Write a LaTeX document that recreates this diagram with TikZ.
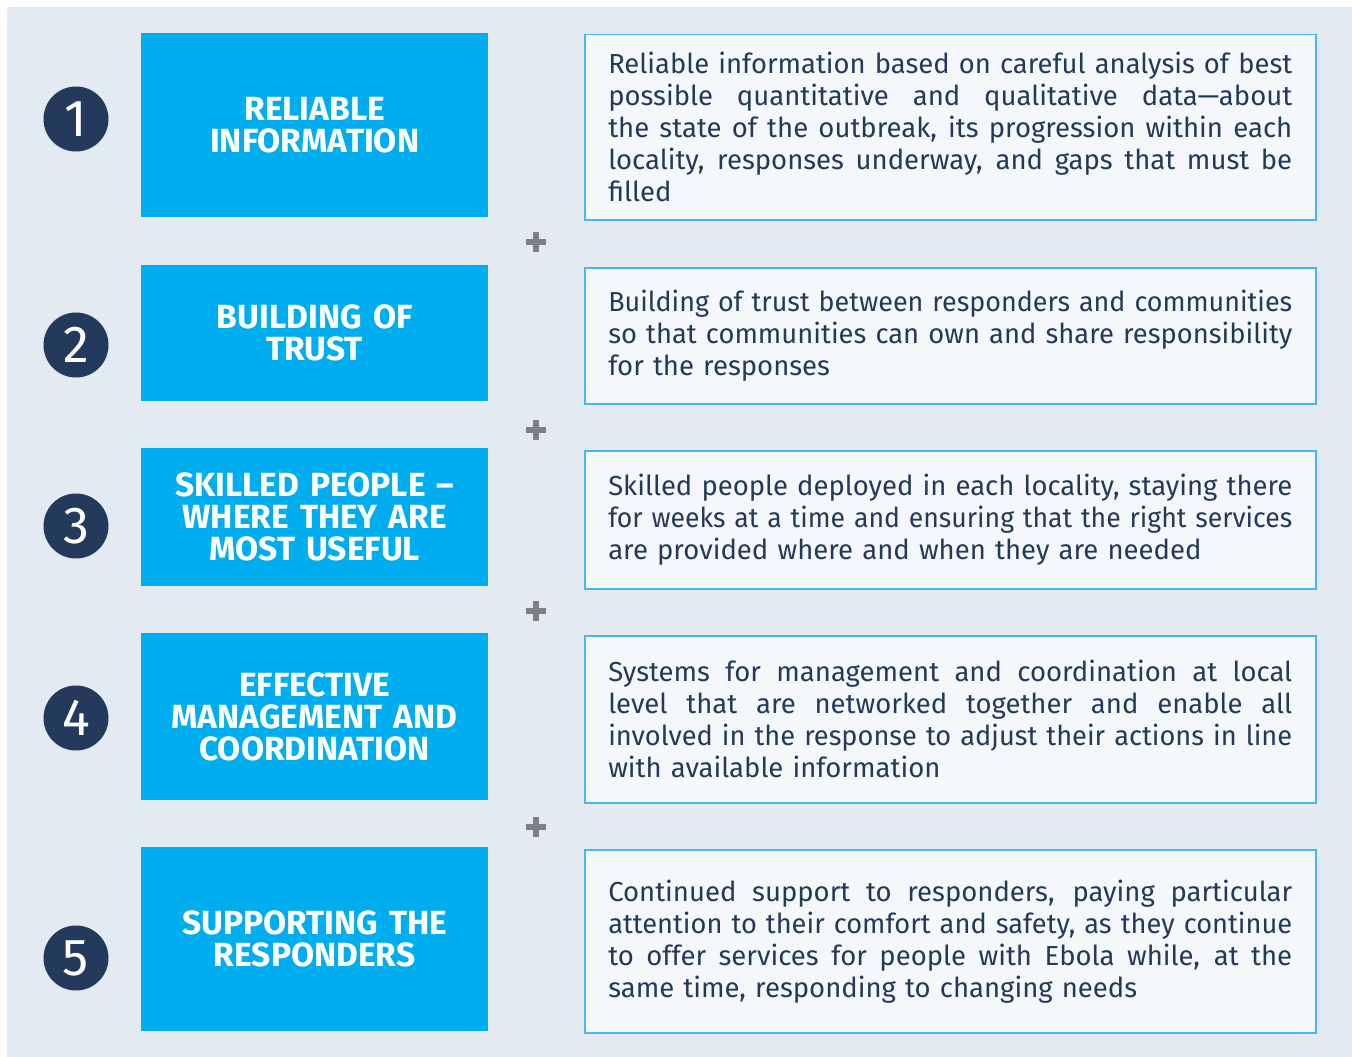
\documentclass[tikz,border=0pt]{standalone}
\usepackage{fontspec}
\usepackage{graphicx}
\setmainfont{Fira Sans}
\setsansfont{Fira Sans}
\definecolor{bgc}{HTML}{E3EAF1}
\definecolor{boxblue}{HTML}{00AEEF}
\definecolor{navy}{HTML}{243A5C}
\definecolor{txtc}{HTML}{24395A}
\definecolor{plusc}{HTML}{7F8084}
\definecolor{pale}{HTML}{F4F8FB}
\definecolor{edgec}{HTML}{45B9EC}
\newsavebox\jlbox
\newcommand{\jl}[1]{\sbox\jlbox{#1}%
  \ifdim\wd\jlbox>\hsize
    \hbox to \hsize{\resizebox{\hsize}{\height}{\usebox\jlbox}}%
  \else
    \hbox to \hsize{\spaceskip=0.25em plus 1fil minus 0.05em #1}%
  \fi}
\newcommand{\rl}[1]{\hbox to \hsize{#1\hfil}}
\tikzset{
  numcirc/.style={circle, fill=navy, minimum size=65pt, inner sep=0pt, text=white,
    font=\sffamily\fontsize{52}{52}\selectfont},
  bluebox/.style={rectangle, fill=boxblue, anchor=north west, inner sep=0pt,
    minimum width=347pt, text width=340pt, align=center, text=white,
    font=\sffamily\bfseries\fontsize{33.5}{32}\selectfont},
  descbox/.style={rectangle, fill=pale, draw=edgec, line width=1.5pt, anchor=north west,
    inner xsep=23.5pt, inner ysep=0pt, text width=684pt, text=txtc,
    font=\fontsize{27.5}{32}\selectfont},
  plusmark/.style={line width=6pt, plusc}
}
\begin{document}
\begin{tikzpicture}[x=1pt,y=-1pt]
\useasboundingbox (0,0) rectangle (1352,1057);
\fill[bgc] (7,7) rectangle (1352,1057);
% circles
\node[numcirc] (c1) at (76,119) {1};
\node[numcirc] (c2) at (76,345) {2};
\node[numcirc] (c3) at (76,526) {3};
\node[numcirc] (c4) at (76,718) {4};
\node[numcirc] (c5) at (76,958) {5};
% blue boxes
\node[bluebox, minimum height=184pt] (b1) at (141,33) {RELIABLE\\INFORMATION};
\node[bluebox, minimum height=136pt] (b2) at (141,265) {BUILDING OF\\TRUST};
\node[bluebox, minimum height=138pt] (b3) at (141,448) {SKILLED PEOPLE –\\WHERE THEY ARE\\MOST USEFUL};
\node[bluebox, minimum height=167pt] (b4) at (141,633) {EFFECTIVE\\MANAGEMENT AND\\COORDINATION};
\node[bluebox, minimum height=184pt] (b5) at (141,847) {SUPPORTING THE\\RESPONDERS};
% description boxes
\node[descbox, minimum height=185pt] (d1) at (584,34) {%
\jl{Reliable information based on careful analysis of best}
\jl{possible quantitative and qualitative data—about}
\jl{the state of the outbreak, its progression within each}
\jl{locality, responses underway, and gaps that must be}
\rl{filled}};
\node[descbox, minimum height=136pt] (d2) at (584,267) {%
\jl{Building of trust between responders and communities}
\jl{so that communities can own and share responsibility}
\rl{for the responses}};
\node[descbox, minimum height=138pt] (d3) at (584,450) {%
\jl{Skilled people deployed in each locality, staying there}
\jl{for weeks at a time and ensuring that the right services}
\rl{are provided where and when they are needed}};
\node[descbox, minimum height=167pt] (d4) at (584,635) {%
\jl{Systems for management and coordination at local}
\jl{level that are networked together and enable all}
\jl{involved in the response to adjust their actions in line}
\rl{with available information}};
\node[descbox, minimum height=183pt] (d5) at (584,849) {%
\jl{Continued support to responders, paying particular}
\jl{attention to their comfort and safety, as they continue}
\jl{to offer services for people with Ebola while, at the}
\rl{same time, responding to changing needs}};
% plus signs
\foreach \py in {242,430,611,827}{
  \draw[plusmark] (526,\py) -- (546,\py);
  \draw[plusmark] (536,\py-10) -- (536,\py+10);
}
\end{tikzpicture}
\end{document}
